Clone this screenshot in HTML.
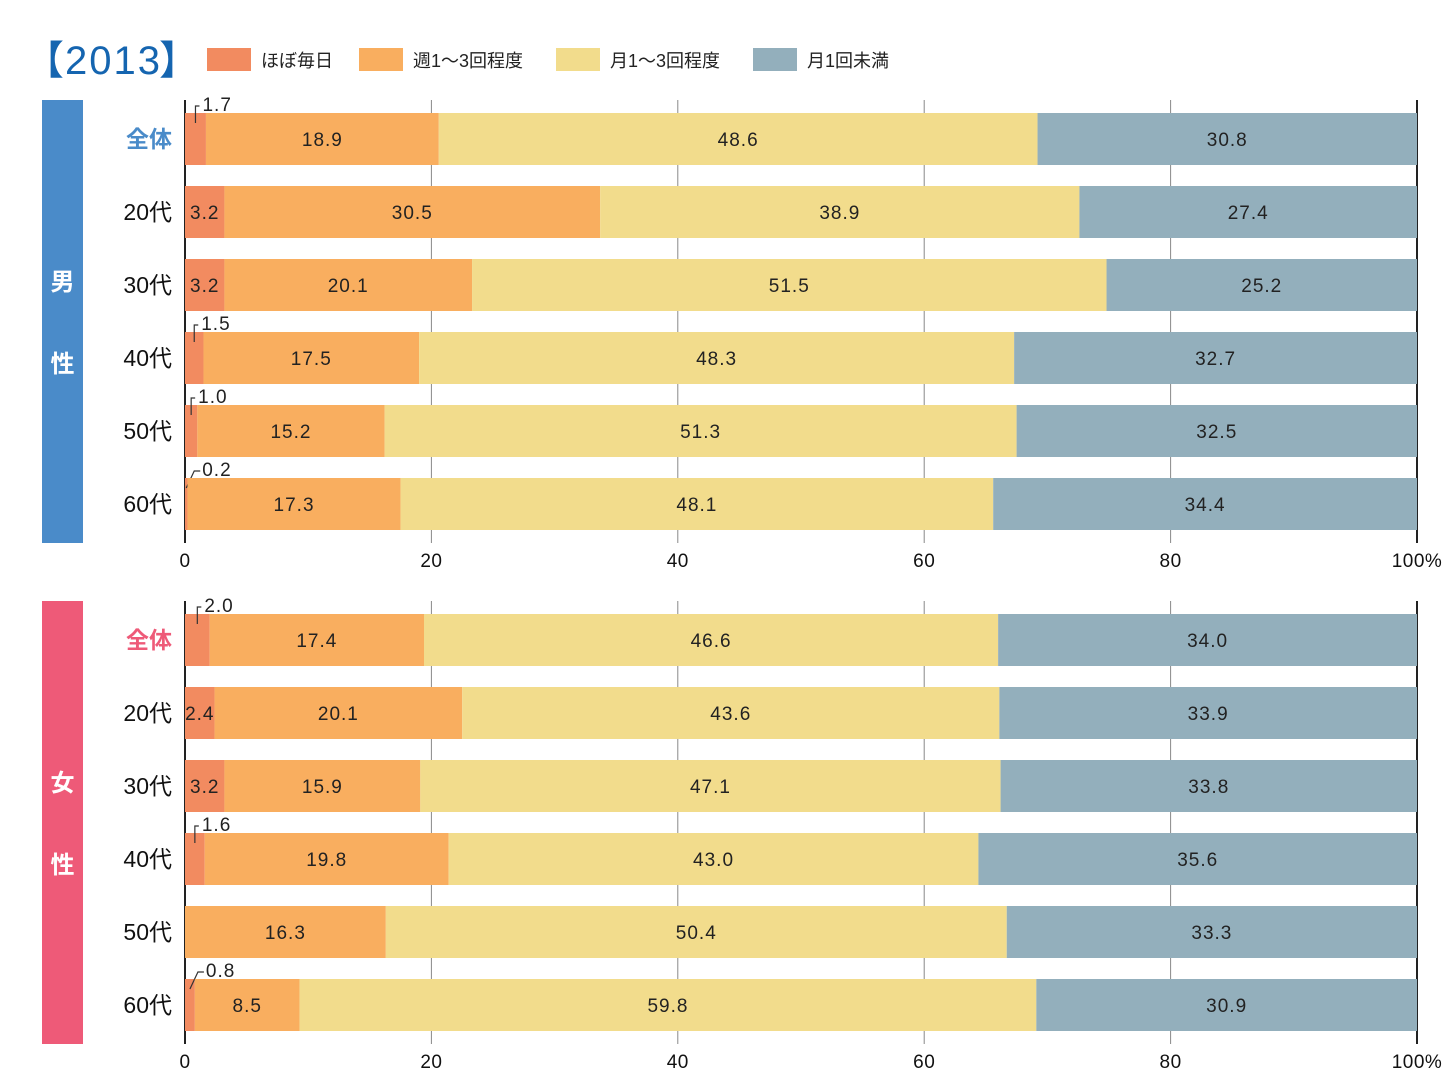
<!DOCTYPE html>
<html><head><meta charset="utf-8">
<style>
body{margin:0;background:#fff;}
svg{display:block;font-family:"Liberation Sans","Noto Sans CJK JP",sans-serif;}
</style></head>
<body>
<svg id="c" width="1456" height="1091" viewBox="0 0 1456 1091" xmlns="http://www.w3.org/2000/svg">
<g font-size="40" fill="#1565b0">
<text x="24" y="74">【</text>
<text x="65" y="74" letter-spacing="2">2013</text>
<text x="159" y="74">】</text>
</g>
</svg>
<script>
const categories = ["全体","20代","30代","40代","50代","60代"];
const seriesNames = ["ほぼ毎日","週1〜3回程度","月1〜3回程度","月1回未満"];
const maleDaily = [1.7,3.2,3.2,1.5,1.0,0.2];
const maleWeekly = [18.9,30.5,20.1,17.5,15.2,17.3];
const maleMonthly = [48.6,38.9,51.5,48.3,51.3,48.1];
const maleLess = [30.8,27.4,25.2,32.7,32.5,34.4];
const femaleDaily = [2.0,2.4,3.2,1.6,0,0.8];
const femaleWeekly = [17.4,20.1,15.9,19.8,16.3,8.5];
const femaleMonthly = [46.6,43.6,47.1,43.0,50.4,59.8];
const femaleLess = [34.0,33.9,33.8,35.6,33.3,30.9];
const ticks = [0,20,40,60,80,100];
const tickLabels = ["0","20","40","60","80","100%"];

const colors = ["#f28b60","#f9ae5f","#f2dc8c","#93afbc"];
const NS = "http://www.w3.org/2000/svg";
const svg = document.getElementById("c");
const X0 = 185, X1 = 1417;
const xs = v => X0 + (X1 - X0) * v / 100;
function el(tag, attrs, parent){
  const e = document.createElementNS(NS, tag);
  for (const k in attrs) e.setAttribute(k, attrs[k]);
  (parent || svg).appendChild(e);
  return e;
}

const legX = [207, 359, 556, 753];
seriesNames.forEach((n, i) => {
  const r = el("rect", {x: legX[i], y: 48, width: 44, height: 23, fill: colors[i]});
  
  
  const t = el("text", {x: legX[i] + 54, y: 67, "font-size": 18, fill: "#222"});
  t.textContent = n;
  
  
});

function panel(top, label, color, series, prefix){
  const boxTop = top, boxH = 443;
  const box = el("rect", {x: 42, y: boxTop, width: 41, height: boxH, fill: color});
  
  
  label.split("").forEach((ch, i) => {
    const t = el("text", {x: 62.5, y: boxTop + 190 + i * 82, "font-size": 24, fill: "#fff", "text-anchor": "middle", "font-weight": "bold"});
    t.textContent = ch;
    
    
  });
  ticks.forEach((v, i) => {
    const isEdge = (v === 0 || v === 100);
    const g = el("line", {x1: xs(v), x2: xs(v), y1: top, y2: top + boxH, stroke: isEdge ? "#222" : "#888", "stroke-width": isEdge ? 2 : 1});
    
    
  });
  categories.forEach((cat, r) => {
    const y = top + 13 + r * 73, h = 52;
    const ct = el("text", {x: 172, y: y + 34, "font-size": 23, "text-anchor": "end", fill: r === 0 ? color : "#111", "font-weight": r === 0 ? "bold" : "normal"});
    ct.textContent = cat;
    
    
    let acc = 0;
    series.forEach((arr, s) => {
      const v = arr[r];
      const a = xs(acc), b = xs(acc + v);
      if (v > 0) {
        const rect = el("rect", {x: a, y: y, width: b - a, height: h, fill: colors[s]});
        
        
        const small = (s === 0 && v < 2.2);
        if (!small) {
          const t = el("text", {x: (a + b) / 2, y: y + 33, "font-size": 19, "letter-spacing": 1, "text-anchor": "middle", fill: "#222"});
          t.textContent = v.toFixed(1);
          
          
        } else {
          const cx = (a + b) / 2;
          let d;
          if (v < 0.9) d = `M${cx} ${y + 10} L${cx + 8} ${y - 7} L${cx + 14} ${y - 7}`;
          else d = `M${cx} ${y + 10} L${cx} ${y - 7} L${cx + 4} ${y - 7}`;
          const p = el("path", {d: d, stroke: "#333", "stroke-width": 1.2, fill: "none"});
          
          
          const t = el("text", {x: cx + (v < 0.9 ? 16 : 7), y: y - 2, "font-size": 19, "letter-spacing": 1, fill: "#222"});
          t.textContent = v.toFixed(1);
          
          
        }
      }
      acc += v;
    });
  });
  ticks.forEach((v, i) => {
    const t = el("text", {x: xs(v), y: top + boxH + 24, "font-size": 19, "letter-spacing": 0.5, "text-anchor": "middle", fill: "#111"});
    t.textContent = tickLabels[i];
    
    
  });
}
panel(100, "男性", "#4a8bc9", [maleDaily, maleWeekly, maleMonthly, maleLess], "male");
panel(601, "女性", "#ee5a78", [femaleDaily, femaleWeekly, femaleMonthly, femaleLess], "female");
</script>
</body></html>
